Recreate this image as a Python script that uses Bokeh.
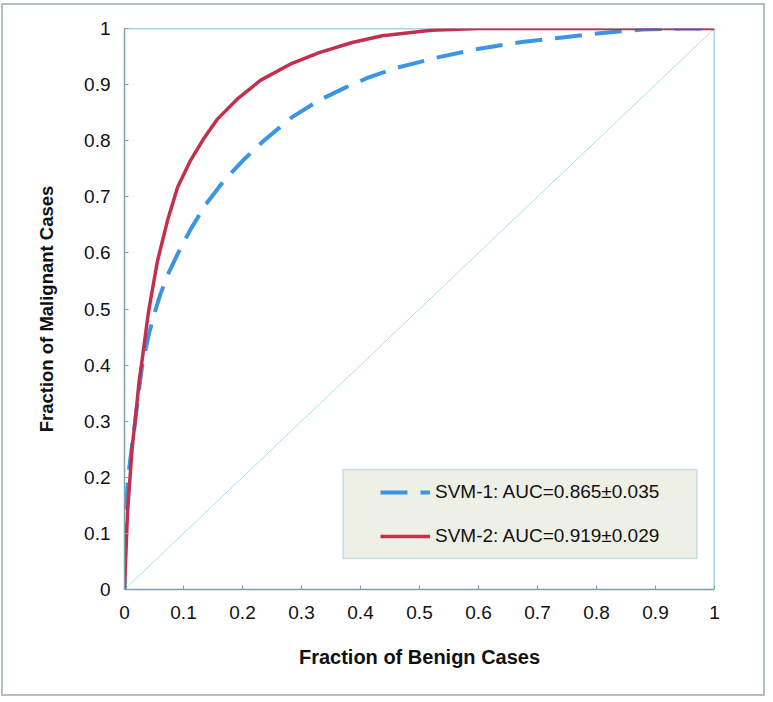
from bokeh.plotting import figure
from bokeh.models import (Range1d, FixedTicker, Legend, LegendItem, BoxAnnotation, Span)
from bokeh.embed import file_html
from bokeh.resources import INLINE

# ---- data ----
svm1_x = [0, 0.002, 0.006, 0.018, 0.030, 0.0415, 0.053, 0.061, 0.075, 0.090, 0.112, 0.138,
          0.169, 0.203, 0.236, 0.284, 0.330, 0.375, 0.414, 0.465, 0.533, 0.601, 0.674,
          0.742, 0.810, 0.878, 0.945, 1.0]
svm1_y = [0, 0.13, 0.20, 0.30, 0.40, 0.456, 0.50, 0.527, 0.565, 0.598, 0.642, 0.687,
          0.729, 0.767, 0.800, 0.842, 0.872, 0.895, 0.913, 0.931, 0.949, 0.964, 0.976,
          0.984, 0.992, 0.998, 1.0, 1.0]

svm2_x = [0, 0.005, 0.013, 0.018, 0.025, 0.030, 0.040, 0.044, 0.056, 0.073, 0.090, 0.112,
          0.135, 0.157, 0.191, 0.231, 0.284, 0.330, 0.386, 0.437, 0.520, 0.600, 1.0]
svm2_y = [0, 0.135, 0.254, 0.30, 0.373, 0.41, 0.49, 0.515, 0.586, 0.658, 0.717, 0.765,
          0.805, 0.838, 0.874, 0.908, 0.938, 0.957, 0.975, 0.987, 0.997, 1.0, 1.0]

chance_x = [0, 1]
chance_y = [0, 1]

labels = ["SVM-1: AUC=0.865\u00b10.035", "SVM-2: AUC=0.919\u00b10.029"]
tick_values = [0, 0.1, 0.2, 0.3, 0.4, 0.5, 0.6, 0.7, 0.8, 0.9, 1.0]
tick_labels = ["0", "0.1", "0.2", "0.3", "0.4", "0.5", "0.6", "0.7", "0.8", "0.9", "1"]

FONT = "Liberation Sans"
BLUE = "#3a95e4"
RED = "#c3304d"
AXIS = "#7fa1aa"
FRAME = "#5aa2de"

p = figure(width=764, height=693, output_backend="svg", toolbar_location=None,
           x_range=Range1d(0, 1), y_range=Range1d(0, 1),
           min_border_left=121, min_border_right=53, min_border_top=23, min_border_bottom=109)
p.styles = {"border": "2px solid #b3c0c0", "margin-left": "1px", "margin-top": "3px"}
p.grid.visible = False
p.outline_line_color = None
p.background_fill_color = "white"
p.border_fill_color = "white"

for ax in (p.xaxis[0], p.yaxis[0]):
    ax.ticker = FixedTicker(ticks=tick_values)
    ax.major_label_overrides = {v: s for v, s in zip(tick_values, tick_labels)}
    ax.axis_line_color = AXIS
    ax.axis_line_width = 1.5
    ax.major_tick_line_color = AXIS
    ax.major_tick_in = 4
    ax.major_tick_out = 0
    ax.minor_tick_line_color = None
    ax.major_label_text_font = FONT
    ax.major_label_text_font_size = "19px"
    ax.major_label_text_color = "#111111"
    ax.axis_label_text_font = FONT
    ax.axis_label_text_font_style = "bold"
    ax.axis_label_text_color = "#111111"

p.xaxis.axis_label = "Fraction of Benign Cases"
p.yaxis.axis_label = "Fraction of Malignant Cases"
p.xaxis.axis_label_text_font_size = "20px"
p.yaxis.axis_label_text_font_size = "18.5px"
p.xaxis.major_label_standoff = 16
p.yaxis.major_label_standoff = 14
p.xaxis.axis_label_standoff = 24
p.yaxis.axis_label_standoff = 24

# top / right frame lines
p.add_layout(Span(location=1, dimension="width", line_color=FRAME, line_width=1.5, level="underlay"))
p.add_layout(Span(location=1, dimension="height", line_color=FRAME, line_width=1.5, level="underlay"))

# legend box
p.add_layout(BoxAnnotation(left=0.3703, right=0.9703, bottom=0.0553, top=0.2139,
                           fill_color="#eef0e6", fill_alpha=1, line_color=FRAME,
                           line_width=1.5, level="underlay"))

p.line(chance_x, chance_y, line_color="#aadfe9", line_width=1)
r1 = p.line(svm1_x, svm1_y, line_color=BLUE, line_width=4, line_dash="27 13")
r2 = p.line(svm2_x, svm2_y, line_color=RED, line_width=3.5)

legend = Legend(items=[LegendItem(label=labels[0], renderers=[r1]),
                       LegendItem(label=labels[1], renderers=[r2])],
                location=(256, 42), orientation="vertical",
                padding=0, margin=0, spacing=22, glyph_width=50, glyph_height=22,
                label_height=22, label_standoff=5,
                label_text_font=FONT, label_text_font_size="19px",
                label_text_color="#111111",
                border_line_color=None, background_fill_alpha=0)
p.add_layout(legend)

open("out.html", "w").write(file_html(p, INLINE))
